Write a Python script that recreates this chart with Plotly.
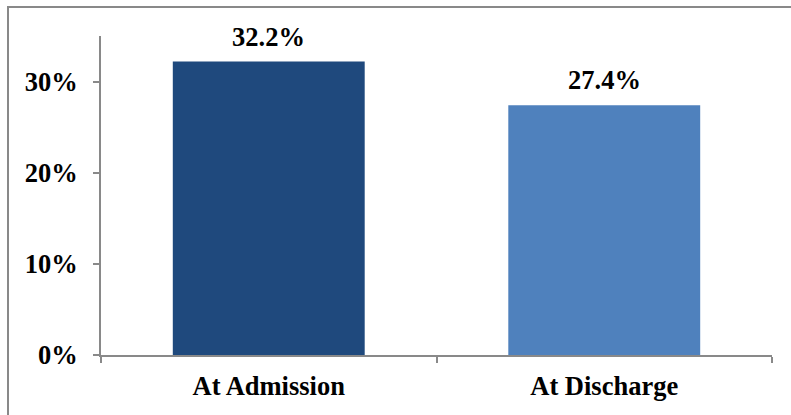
import plotly.graph_objects as go

categories = ["At Admission", "At Discharge"]
values = [32.2, 27.4]
bar_colors = ["#1F497D", "#4F81BD"]
y_tickvals = [0, 10, 20, 30]
y_ticktext = ["0%", "10%", "20%", "30%"]
subtitle = "(Patients with glucose data (admit & discharge), n=585)"

FONT = "Liberation Serif, Times New Roman, serif"
GRAY = "#898989"
FS = 26.5

fig = go.Figure()
fig.add_trace(go.Bar(
    x=categories, y=values,
    marker=dict(color=bar_colors, line=dict(width=0)),
    width=0.572,
    hoverinfo="skip",
))

for c, v in zip(categories, values):
    fig.add_annotation(
        x=c, y=v, xref="x", yref="y",
        text=f"<b>{v:.1f}%</b>", showarrow=False,
        yanchor="bottom", yshift=8,
        font=dict(family=FONT, size=FS, color="black"),
    )

# cut-off subtitle at the very top
fig.add_annotation(
    x=-0.1386, y=1.163, xref="paper", yref="paper",
    xanchor="left", yanchor="middle",
    text=subtitle, showarrow=False,
    font=dict(family=FONT, size=FS, color="black"),
)

# chart-area frame
fig.add_shape(
    type="rect", xref="paper", yref="paper",
    x0=-0.1386, x1=1.2, y0=-0.4, y1=1.0909,
    line=dict(color=GRAY, width=2), fillcolor="rgba(0,0,0,0)",
    layer="below",
)

fig.update_layout(
    width=791, height=415,
    margin=dict(l=101, r=19, t=36, b=60),
    paper_bgcolor="white", plot_bgcolor="white",
    showlegend=False,
    bargap=0.428,
    font=dict(family=FONT, size=FS, color="black"),
)
fig.update_xaxes(
    type="category",
    showline=True, linecolor=GRAY, linewidth=2,
    ticks="outside", tickson="boundaries", ticklen=6, tickcolor=GRAY, tickwidth=2,
    tickvals=categories, ticktext=[f"<b>{c}</b>" for c in categories],
    ticklabelstandoff=6,
    showgrid=False, zeroline=False,
)
fig.update_yaxes(
    range=[0, 35],
    showline=True, linecolor=GRAY, linewidth=2,
    ticks="outside", ticklen=6, tickcolor=GRAY, tickwidth=2,
    tickvals=y_tickvals, ticktext=[f"<b>{t}</b>" for t in y_ticktext],
    ticklabelstandoff=10,
    showgrid=False, zeroline=False,
)

fig.write_html("out.html")
